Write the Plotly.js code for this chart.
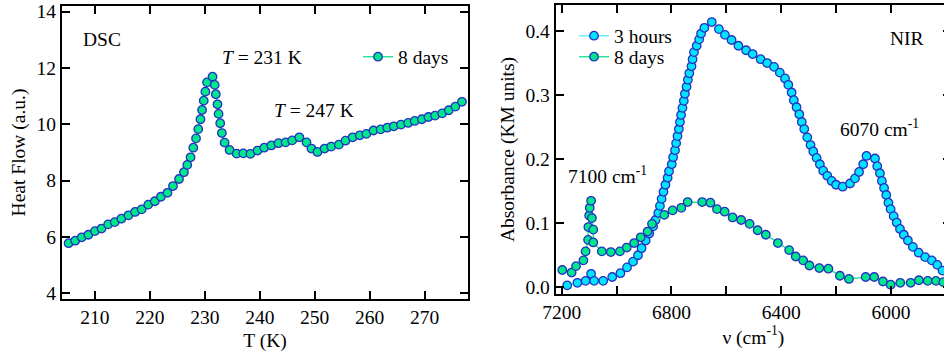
<!DOCTYPE html>
<html>
<head>
<meta charset="utf-8">
<script src="https://cdn.plot.ly/plotly-3.0.1.min.js"></script>
<style>
html,body{margin:0;padding:0;overflow:hidden;background:#fff;}
#chart{width:960px;height:356px;}
</style>
</head>
<body>
<div id="chart"></div>
<script>
// ---- DSC panel (8 days) ----
var dscT = [205.2,206.4,207.6,208.8,210.0,211.2,212.4,213.6,214.8,216.1,217.3,218.5,219.7,220.9,222.0,223.2,224.2,225.3,226.2,226.8,227.4,227.9,228.4,228.8,229.2,229.5,229.8,230.1,230.4,231.4,231.8,232.0,232.3,232.5,232.8,233.1,233.6,234.5,235.8,237.0,238.3,239.6,240.8,242.1,243.4,244.7,245.9,247.2,248.5,249.4,250.5,251.8,253.0,254.4,255.6,256.9,258.2,259.4,260.7,262.0,263.2,264.4,265.7,267.0,268.2,269.5,270.7,271.9,273.2,274.4,275.6,276.8];
var dscHeatFlow = [5.78,5.87,5.99,6.08,6.21,6.30,6.45,6.53,6.65,6.77,6.89,6.98,7.15,7.27,7.43,7.57,7.81,8.06,8.30,8.56,8.83,9.17,9.50,9.83,10.18,10.51,10.84,11.16,11.49,11.69,11.40,11.07,10.71,10.37,10.04,9.69,9.35,9.09,8.96,8.97,8.95,9.07,9.17,9.25,9.33,9.36,9.43,9.54,9.36,9.14,9.02,9.14,9.21,9.28,9.42,9.54,9.61,9.66,9.78,9.82,9.88,9.93,9.99,10.05,10.12,10.18,10.26,10.31,10.39,10.50,10.63,10.80];

// ---- NIR panel ----
var nirHoursNu = [7180,7143,7113,7093,7082,7049,7016,6986,6962,6940,6922,6909,6894,6881,6867,6858,6848,6842,6836,6829,6822,6814,6809,6799,6794,6787,6783,6778,6773,6769,6765,6760,6755,6751,6745,6740,6735,6727,6723,6718,6708,6699,6692,6680,6653,6627,6605,6581,6556,6528,6504,6475,6451,6426,6405,6386,6374,6362,6354,6344,6334,6325,6316,6305,6293,6283,6271,6259,6247,6232,6216,6200,6176,6149,6131,6116,6101,6089,6058,6050,6040,6033,6025,6017,6009,6001,5990,5979,5967,5953,5938,5920,5899,5875,5851,5831,5812];
var nirHoursAbs = [0.003,0.007,0.010,0.021,0.010,0.010,0.016,0.022,0.031,0.040,0.050,0.061,0.073,0.084,0.095,0.105,0.116,0.127,0.138,0.149,0.160,0.171,0.181,0.192,0.203,0.214,0.225,0.236,0.247,0.258,0.269,0.280,0.291,0.302,0.313,0.324,0.334,0.345,0.356,0.367,0.377,0.387,0.396,0.405,0.414,0.403,0.394,0.386,0.377,0.370,0.364,0.356,0.350,0.344,0.335,0.326,0.316,0.304,0.292,0.281,0.270,0.258,0.247,0.234,0.222,0.212,0.202,0.192,0.182,0.174,0.166,0.160,0.157,0.162,0.170,0.180,0.192,0.205,0.201,0.189,0.178,0.166,0.155,0.144,0.132,0.122,0.111,0.101,0.091,0.082,0.073,0.063,0.054,0.047,0.042,0.035,0.026];
var nirDaysNu = [7198,7164,7148,7121,7113,7104,7103,7100,7098,7093,7090,7085,7085,7054,7021,6988,6963,6936,6912,6887,6871,6826,6796,6764,6741,6688,6658,6634,6606,6577,6546,6515,6486,6456,6412,6371,6347,6320,6297,6261,6228,6186,6153,6092,6061,6029,6001,5966,5928,5898,5866,5836,5809];
var nirDaysAbs = [0.027,0.023,0.033,0.042,0.056,0.074,0.094,0.112,0.124,0.135,0.108,0.090,0.070,0.056,0.055,0.056,0.062,0.069,0.078,0.087,0.099,0.113,0.120,0.124,0.133,0.133,0.132,0.122,0.118,0.109,0.105,0.099,0.089,0.082,0.069,0.058,0.048,0.042,0.034,0.030,0.029,0.018,0.013,0.016,0.016,0.009,0.004,0.007,0.007,0.011,0.010,0.010,0.008];

var seriesNames = ['8 days', '3 hours', '8 days'];
var nirTickVals = [7200, 6800, 6400, 6000];

var W = 960, H = 356;
var FONT = 'Liberation Serif';
var FS = 19.5;
var outline = '#2530c0';
var greenFill = '#00e68c', greenLine = '#2ee39a';
var cyanFill = '#00e5ff', cyanLine = '#6aeeff';

var traces = [
  {x: dscT, y: dscHeatFlow, name: seriesNames[0], xaxis: 'x', yaxis: 'y', legend: 'legend',
   mode: 'lines+markers', line: {color: greenLine, width: 1.5},
   marker: {symbol: 'circle', size: 8.5, color: greenFill, line: {color: outline, width: 1.3}}},
  {x: nirHoursNu, y: nirHoursAbs, name: seriesNames[1], xaxis: 'x2', yaxis: 'y2', legend: 'legend2',
   mode: 'lines+markers', line: {color: cyanLine, width: 1.5},
   marker: {symbol: 'circle', size: 8.5, color: cyanFill, line: {color: outline, width: 1.3}}},
  {x: nirDaysNu, y: nirDaysAbs, name: seriesNames[2], xaxis: 'x2', yaxis: 'y2', legend: 'legend3',
   mode: 'lines+markers', line: {color: greenLine, width: 1.5},
   marker: {symbol: 'circle', size: 8.5, color: greenFill, line: {color: outline, width: 1.3}}}
];

function dom(a, b, tot) { return [a / tot, b / tot]; }
var axBase = {
  showline: true, linecolor: '#000', linewidth: 2, mirror: 'allticks',
  ticks: 'inside', ticklen: 8, tickwidth: 2, tickcolor: '#000',
  showgrid: false, zeroline: false, automargin: false,
  tickfont: {family: FONT, size: FS, color: '#000'}
};
function ax(extra) { return Object.assign({}, axBase, extra); }

var legBase = {font: {family: FONT, size: FS, color: '#000'}, bgcolor: 'rgba(0,0,0,0)', borderwidth: 0,
  xref: 'paper', yref: 'paper', xanchor: 'left', yanchor: 'middle'};
function leg(px, py) { return Object.assign({}, legBase, {x: px / W, y: 1 - py / H}); }

function note(xr, yr, x, y, text) {
  return {xref: xr, yref: yr, x: x, y: y, text: text, showarrow: false,
    xanchor: 'center', yanchor: 'middle', font: {family: FONT, size: FS, color: '#000'}};
}

var layout = {
  width: W, height: H,
  margin: {l: 0, r: 0, t: 0, b: 0},
  paper_bgcolor: '#fff', plot_bgcolor: '#fff',
  showlegend: true,
  font: {family: FONT, size: FS, color: '#000'},
  xaxis: ax({domain: dom(62, 468, W), range: [204, 277.9], dtick: 10, tick0: 200, anchor: 'y',
    title: {text: 'T (K)', font: {family: FONT, size: FS}, standoff: 6}}),
  yaxis: ax({domain: [1 - 299 / H, 1 - 6 / H], range: [3.8, 14.2], dtick: 2, tick0: 0, anchor: 'x',
    title: {text: 'Heat Flow (a.u.)', font: {family: FONT, size: FS}, standoff: 6}}),
  xaxis2: ax({domain: dom(555.7, 951, W), range: [7222, 5781], tickvals: nirTickVals, anchor: 'y2',
    minor: {dtick: 200, tick0: 0, ticks: 'inside', ticklen: 8, tickwidth: 2, tickcolor: '#000', showgrid: false},
    title: {text: 'ν (cm<sup>-1</sup>)', font: {family: FONT, size: FS}, standoff: 6}}),
  yaxis2: ax({domain: [1 - 294 / H, 1 - 5 / H], range: [-0.0105, 0.4406], dtick: 0.1, tick0: 0, tickformat: '.1f', anchor: 'x2',
    title: {text: 'Absorbance (KM units)', font: {family: FONT, size: FS}, standoff: 6}}),
  legend: leg(358, 57),
  legend2: leg(574, 36),
  legend3: leg(574, 57),
  annotations: [
    note('x domain', 'y domain', 0.0985, 0.887, 'DSC'),
    note('x domain', 'y domain', 0.4926, 0.824, '<i>T</i> = 231 K'),
    note('x domain', 'y domain', 0.621, 0.645, '<i>T</i> = 247 K'),
    note('x2 domain', 'y2 domain', 0.8887, 0.8824, 'NIR'),
    note('x2 domain', 'y2 domain', 0.818, 0.575, '6070 cm<sup>-1</sup>'),
    note('x2 domain', 'y2 domain', 0.1318, 0.412, '7100 cm<sup>-1</sup>')
  ]
};

Plotly.newPlot('chart', traces, layout, {displayModeBar: false, staticPlot: true});
</script>
</body>
</html>
